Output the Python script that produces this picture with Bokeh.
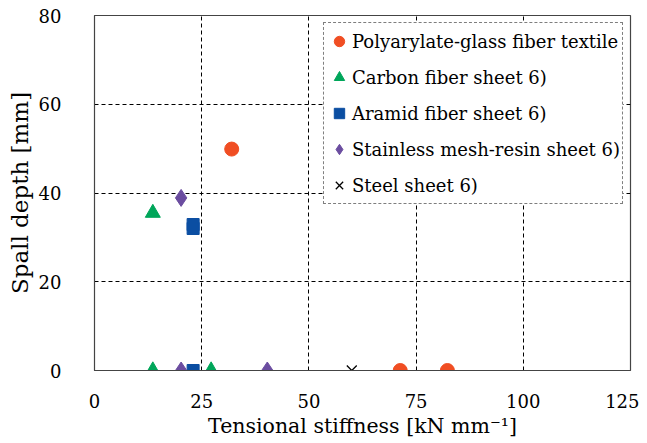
from bokeh.plotting import figure
from bokeh.models import Legend, LegendItem, FixedTicker, Range1d
from bokeh.embed import file_html
from bokeh.resources import INLINE

# Data (tensional stiffness kN/mm, spall depth mm)
poly_x = [32.0, 71.3, 82.3]
poly_y = [49.9, 0.0, 0.0]
carbon_x = [13.6, 13.6, 27.2]
carbon_y = [35.5, 0.0, 0.0]
aramid_x = [23.0, 23.0, 23.0]
aramid_y = [32.9, 32.0, 0.0]
stain_x = [20.2, 20.2, 40.3]
stain_y = [38.9, 0.0, 0.0]
steel_x = [60.0]
steel_y = [0.0]

x_ticks = [0, 25, 50, 75, 100, 125]
y_ticks = [0, 20, 40, 60, 80]
labels = ["Polyarylate-glass fiber textile", "Carbon fiber sheet 6)",
          "Aramid fiber sheet 6)", "Stainless mesh-resin sheet 6)", "Steel sheet 6)"]
x_title = "Tensional stiffness [kN mm\u207b\u00b9]"
y_title = "Spall depth [mm]"

FONT = "'DejaVu Serif'"

p = figure(width=639, height=440, output_backend="svg", toolbar_location=None,
           x_range=Range1d(0, 125), y_range=Range1d(0, 80),
           min_border_left=94, min_border_right=9, min_border_top=15, min_border_bottom=70)

p.outline_line_color = "#444444"
p.outline_line_width = 1.2

for ax in (p.xaxis[0], p.yaxis[0]):
    ax.axis_line_color = "#444444"
    ax.major_tick_line_color = None
    ax.minor_tick_line_color = None
    ax.major_label_text_font = FONT
    ax.major_label_text_font_size = "18px"
    ax.major_label_text_color = "black"
    ax.axis_label_text_font = FONT
    ax.axis_label_text_font_style = "normal"
    ax.axis_label_text_color = "black"

p.xaxis.ticker = FixedTicker(ticks=x_ticks)
p.yaxis.ticker = FixedTicker(ticks=y_ticks)
p.xaxis.major_label_standoff = 17
p.yaxis.major_label_standoff = 27
p.xaxis.axis_label = x_title
p.xaxis.axis_label_text_font_size = "20.5px"
p.xaxis.axis_label_standoff = 3
p.yaxis.axis_label = y_title
p.yaxis.axis_label_text_font_size = "23px"
p.yaxis.axis_label_standoff = 3

p.xgrid.ticker = FixedTicker(ticks=[25, 50, 75, 100])
p.ygrid.ticker = FixedTicker(ticks=[20, 40, 60])
for g in (p.xgrid[0], p.ygrid[0]):
    g.grid_line_color = "black"
    g.grid_line_dash = "4 3"
    g.grid_line_width = 1

r1 = p.scatter(poly_x, poly_y, marker="circle", size=14, color="#F04E23")
r2 = p.scatter(carbon_x, carbon_y, marker="triangle", size=15, color="#00A65A")
r3 = p.scatter(aramid_x, aramid_y, marker="square", size=12, color="#0B4EA2")
r4 = p.scatter(stain_x, stain_y, marker="diamond", size=17, color="#6B4DA0")
r5 = p.scatter(steel_x, steel_y, marker="x", size=14, line_color="black", line_width=1.3)

legend = Legend(items=[LegendItem(label=l, renderers=[r]) for l, r in
                       zip(labels, [r1, r2, r3, r4, r5])],
                location="top_right")
legend.label_text_font = FONT
legend.label_text_font_size = "18px"
legend.label_text_color = "black"
legend.border_line_color = "black"
legend.border_line_dash = "4 3"
legend.border_line_width = 1
legend.background_fill_color = "white"
legend.background_fill_alpha = 1
legend.margin = 7
legend.padding = 2
legend.spacing = 4
legend.label_height = 32
legend.glyph_height = 32
legend.glyph_width = 26
legend.label_standoff = -4
p.add_layout(legend)

open("out.html", "w").write(file_html(p, INLINE))
